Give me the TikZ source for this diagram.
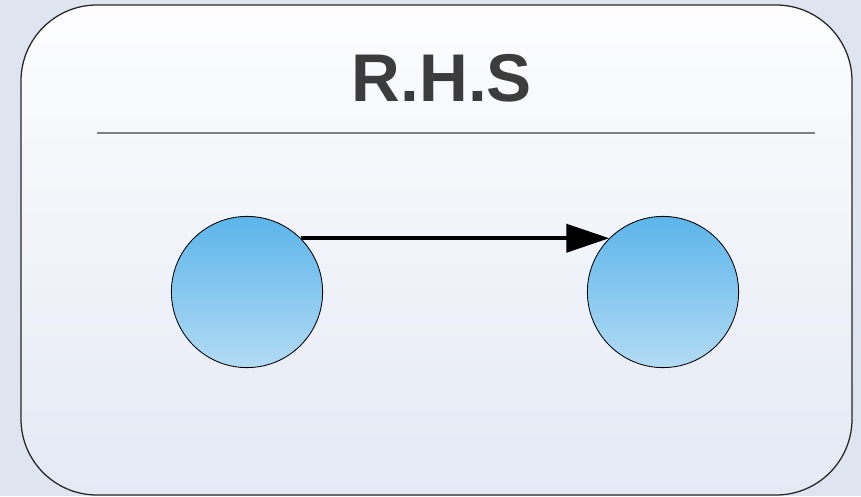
\documentclass[tikz,border=0pt]{standalone}
\usepackage{fontspec}
\setmainfont{Liberation Sans}
\usepackage{tikz}
\usetikzlibrary{arrows.meta, positioning}
\definecolor{PageBg}{HTML}{DFE5F0}
\definecolor{PanelTop}{HTML}{FDFDFE}
\definecolor{PanelBot}{HTML}{E4E9F4}
\definecolor{BallTop}{HTML}{5BB5EA}
\definecolor{BallBot}{HTML}{B3DBF4}
\definecolor{TitleGray}{HTML}{3C3C3C}
\definecolor{RuleGray}{HTML}{808080}
\tikzset{
  panel/.style={draw=black!85, line width=0.9pt, rounded corners=1.9cm,
                top color=PanelTop, bottom color=PanelBot},
  ball/.style={circle, draw=black, line width=0.6pt, minimum size=3.78cm,
               inner sep=0pt, top color=BallTop, bottom color=BallBot},
  heading/.style={font=\fontsize{48}{52}\selectfont\bfseries, text=TitleGray},
}

\begin{document}
\begin{tikzpicture}[
          x=0.025cm, y=0.025cm,
          arr/.style={-{Triangle[length=1.07cm, width=0.7cm]}, line width=2.6pt, color=black}
        ]
          % page and panel
          \fill[PageBg] (0,0) rectangle (861,496);
          \useasboundingbox (0,0) rectangle (861,496);
          \draw[panel] (21,1) rectangle (852,491);
          \node[heading] (title) at (442,418) {R.H.S};
          \coordinate (ruleL) at (97,363);
          \coordinate (ruleR) at (815,363);
          \draw[RuleGray, line width=0.9pt] (ruleL) -- (ruleR);
          % the two states
          \node[ball] (lhsnode) at (247,204) {};
          \node[ball] (rhsnode) at (663,204) {};
          \draw[arr] (lhsnode.north east) -- (rhsnode.north west);
        \end{tikzpicture}
\end{document}
